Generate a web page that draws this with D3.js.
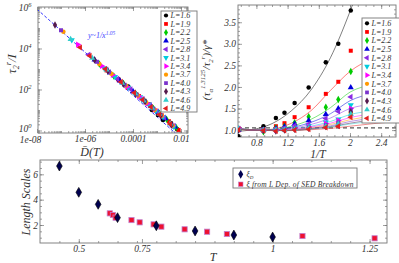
<!DOCTYPE html>
<html>
<head>
<meta charset="utf-8">
<script src="https://cdn.jsdelivr.net/npm/d3@7"></script>
<style>
  body { margin: 0; background: #fff; }
  svg text { font-family: "Liberation Serif", "DejaVu Serif", serif; font-style: italic; fill: #333; }
</style>
</head>
<body>
<svg id="fig" width="399" height="263"></svg>
<script>
var lengths = [1.6, 1.9, 2.2, 2.5, 2.8, 3.1, 3.4, 3.7, 4.0, 4.3, 4.6, 4.9];
var colors = ["#000000", "#ff0000", "#00cc00", "#0000dd", "#8a2be2", "#00ccdd",
              "#ff00ff", "#ff9900", "#7a33cc", "#551a4d", "#33cccc", "#e02020"];
var shapes = ["circle", "square", "diamond", "up", "left", "down",
              "right", "circle", "square", "diamond", "up", "left"];

// top left: log10 of D(T) and of tau_2^r / I, one row per L
var logD = [
  [-2.17, -2.42, -2.75, -2.96, -3.21, -3.5, -3.85, -4.2, -4.6],
  [-2.1, -2.5, -2.8, -3.05, -3.35, -3.75, -4.2, -4.6, -5.1],
  [-2.2, -2.6, -2.9, -3.15, -3.45, -3.9, -4.4, -4.8, -5.4],
  [-2.25, -2.65, -2.95, -3.25, -3.55, -4.0, -4.55, -4.95, -5.6],
  [-2.3, -2.7, -3.0, -3.3, -3.6, -4.1, -4.65, -5.1, -5.85],
  [-2.3, -2.75, -3.05, -3.35, -3.7, -4.2, -4.75, -5.2, -6.55],
  [-2.35, -2.8, -3.1, -3.4, -3.75, -4.25, -4.85, -5.3, -6.3],
  [-2.35, -2.8, -3.1, -3.45, -3.8, -4.3, -4.9, -5.4, -6.9],
  [-2.4, -2.85, -3.15, -3.5, -3.85, -4.35, -5.0, -5.5, -7.0],
  [-2.4, -2.85, -3.2, -3.5, -3.9, -4.4, -5.05, -5.6, -7.25],
  [-2.45, -2.9, -3.2, -3.55, -3.9, -4.45, -5.1, -5.7, -6.6],
  [-2.45, -2.9, -3.25, -3.6, -3.95, -4.5, -5.15, -5.8, -6.2]
];
var logTau = [
  [0.07, 0.37, 0.51, 0.76, 1.0, 1.41, 1.75, 2.15, 2.5],
  [0.03, 0.45, 0.74, 0.97, 1.29, 1.68, 2.08, 2.47, 2.93],
  [0.15, 0.55, 0.84, 1.08, 1.38, 1.82, 2.29, 2.66, 3.24],
  [0.18, 0.58, 0.89, 1.19, 1.49, 1.92, 2.43, 2.82, 3.45],
  [0.22, 0.63, 0.93, 1.24, 1.53, 2.01, 2.52, 2.96, 3.69],
  [0.19, 0.67, 0.96, 1.28, 1.63, 2.10, 2.62, 3.05, 4.42],
  [0.25, 0.71, 1.02, 1.32, 1.66, 2.13, 2.71, 3.15, 4.19],
  [0.24, 0.72, 1.01, 1.36, 1.71, 2.19, 2.77, 3.24, 4.82],
  [0.29, 0.75, 1.06, 1.42, 1.75, 2.23, 2.86, 3.35, 4.89],
  [0.27, 0.73, 1.10, 1.41, 1.80, 2.27, 2.90, 3.44, 5.15],
  [0.33, 0.80, 1.10, 1.45, 1.80, 2.32, 2.96, 3.54, 4.45],
  [0.32, 0.78, 1.15, 1.50, 1.84, 2.37, 3.00, 3.64, 4.05]
];
// dashed power law y ~ 1/x^1.05, end points
var powerLogD = [-8, -2];
var powerLogTau = [5.92, -0.38];

// top right: 1/T and the ratio (tau_alpha^1.3125 / tau_2^r) / gamma*
var invT = [0.57, 0.89, 1.05, 1.16, 1.29, 1.47, 1.69, 1.85, 2.01];
var ratio = [
  [0.86, 1.09, 1.28, 1.40, 1.63, 1.99, 2.57, 3.00, 3.77],
  [1.04, 0.98, 1.09, 1.16, 1.30, 1.53, 1.84, 2.12, 2.84],
  [1.02, 0.96, 1.05, 1.09, 1.17, 1.31, 1.53, 1.71, 2.36],
  [1.00, 1.00, 1.03, 1.08, 1.14, 1.22, 1.37, 1.50, 1.99],
  [1.03, 1.00, 1.02, 1.05, 1.10, 1.14, 1.27, 1.43, 1.77],
  [1.00, 0.99, 1.00, 1.03, 1.06, 1.10, 1.18, 1.25, 1.58],
  [1.05, 1.00, 1.00, 1.02, 1.05, 1.08, 1.15, 1.22, 1.50],
  [1.02, 1.00, 0.99, 1.00, 1.02, 1.05, 1.10, 1.16, 1.40],
  [1.04, 1.01, 1.00, 1.01, 1.03, 1.06, 1.12, 1.18, 1.47],
  [1.00, 0.99, 0.98, 1.00, 1.02, 1.04, 1.08, 1.12, 1.42],
  [1.03, 1.00, 1.00, 1.01, 1.02, 1.05, 1.09, 1.14, 1.37],
  [1.01, 0.99, 0.98, 0.99, 1.00, 1.02, 1.06, 1.09, 1.30]
];
var fitInvT = [0.56, 0.8, 1.0, 1.25, 1.5, 1.75, 2.0, 2.3, 2.59];
var fitRatio = [
  [0.97, 1.03, 1.15, 1.45, 1.93, 2.68, 3.75, 5.3, 7.0],
  [1.04, 0.99, 1.02, 1.16, 1.45, 1.92, 2.36, 2.68, 2.95],
  [1.05, 1.00, 1.01, 1.09, 1.25, 1.52, 1.88, 2.07, 2.21],
  [1.04, 1.00, 1.00, 1.06, 1.18, 1.38, 1.68, 1.86, 2.00],
  [1.04, 1.00, 1.00, 1.04, 1.13, 1.28, 1.50, 1.61, 1.70],
  [1.03, 1.00, 0.99, 1.02, 1.09, 1.20, 1.36, 1.45, 1.52],
  [1.03, 1.00, 0.99, 1.01, 1.07, 1.16, 1.29, 1.38, 1.45],
  [1.03, 1.00, 0.99, 1.00, 1.05, 1.13, 1.24, 1.33, 1.40],
  [1.02, 1.00, 0.99, 1.00, 1.04, 1.10, 1.20, 1.28, 1.35],
  [1.02, 1.00, 0.99, 0.99, 1.03, 1.08, 1.16, 1.24, 1.30],
  [1.02, 1.00, 0.99, 0.99, 1.02, 1.07, 1.14, 1.21, 1.27],
  [1.01, 1.00, 0.99, 0.99, 1.01, 1.04, 1.09, 1.15, 1.20]
];
var ratioRef = 1.05;

// bottom: length scales against T
var tD = [0.45, 0.5, 0.55, 0.6, 0.7, 0.8, 0.9, 1.0];
var xiD = [6.65, 4.58, 3.63, 2.58, 1.94, 1.53, 1.21, 1.05];
var tSED = [0.58, 0.588, 0.595, 0.636, 0.657, 0.693, 0.713, 0.773, 0.831, 0.882, 1.077, 1.263];
var xiSED = [2.92, 2.79, 2.58, 2.39, 2.21, 2.05, 1.87, 1.66, 1.47, 1.29, 1.13, 0.95];
// the original frame puts its "0.75" label well left of T = 0.75
var tTicks = [0.5, 0.663, 1, 1.25];
var tTickLabels = ["0.5", "0.75", "1", "1.25"];

var svg = d3.select("#fig");
var frameColor = "#777";

function symbolPath(shape, size) {
  var type = { circle: d3.symbolCircle, square: d3.symbolSquare, diamond: d3.symbolDiamond,
               up: d3.symbolTriangle, down: d3.symbolTriangle, left: d3.symbolTriangle,
               right: d3.symbolTriangle }[shape];
  return d3.symbol().type(type).size(size)();
}
function symbolRotate(shape) {
  return { down: 180, left: -90, right: 90 }[shape] || 0;
}
function drawMarker(g, shape, color, x, y, size) {
  g.append("path")
    .attr("d", symbolPath(shape, size))
    .attr("transform", "translate(" + x + "," + y + ") rotate(" + symbolRotate(shape) + ")")
    .attr("fill", color);
}

// draws ticks on all four sides, pointing inward
function frameAxes(g, x, y, major, minor, fmtX, fmtY) {
  var r = x.range(), d = y.range();
  var x0 = r[0], x1 = r[1], y0 = d[1], y1 = d[0];
  g.append("rect").attr("x", x0).attr("y", y0).attr("width", x1 - x0).attr("height", y1 - y0)
    .attr("fill", "none").attr("stroke", frameColor).attr("stroke-width", 0.9);

  function ticks(axisFn, scale, vals, len, fmt, tx) {
    var a = axisFn(scale).tickValues(vals).tickSize(-len).tickPadding(2)
      .tickFormat(fmt || "");
    var s = g.append("g").attr("transform", tx).call(a);
    s.select(".domain").remove();
    s.selectAll("line").attr("stroke", frameColor).attr("stroke-width", 0.7);
    s.selectAll("text").attr("font-size", 9.5).attr("fill", "#333").attr("font-family", null);
    return s;
  }
  ticks(d3.axisBottom, x, minor.x, 2, null, "translate(0," + y1 + ")");
  ticks(d3.axisTop, x, minor.x, 2, null, "translate(0," + y0 + ")");
  ticks(d3.axisLeft, y, minor.y, 2, null, "translate(" + x0 + ",0)");
  ticks(d3.axisRight, y, minor.y, 2, null, "translate(" + x1 + ",0)");
  var bx = ticks(d3.axisBottom, x, major.x, 4, fmtX, "translate(0," + y1 + ")");
  ticks(d3.axisTop, x, major.x, 4, null, "translate(0," + y0 + ")");
  ticks(d3.axisLeft, y, major.y, 4, fmtY, "translate(" + x0 + ",0)");
  ticks(d3.axisRight, y, major.y, 4, null, "translate(" + x1 + ",0)");
  return bx;
}

function legendBox(g, x0, y0, x1, y1) {
  g.append("rect").attr("x", x0).attr("y", y0).attr("width", x1 - x0).attr("height", y1 - y0)
    .attr("fill", "#fff").attr("stroke", frameColor).attr("stroke-width", 0.9);
}
function lLegend(g, x0, y0, x1, y1, firstY, step) {
  legendBox(g, x0, y0, x1, y1);
  lengths.forEach(function(L, i) {
    var yy = firstY + i * step;
    drawMarker(g, shapes[i], colors[i], x0 + 5, yy, 14);
    g.append("text").attr("x", x0 + 9.5).attr("y", yy + 2.8).attr("font-size", 8)
      .text("L=" + L.toFixed(1));
  });
}

/* ---------- top left ---------- */
var tl = svg.append("g");
var xTL = d3.scaleLog().domain([Math.pow(10, -7.958), Math.pow(10, -1.708)]).range([38, 188]);
var yTL = d3.scaleLog().domain([Math.pow(10, -0.122), Math.pow(10, 6.024)]).range([133, 7]);

var minorTLx = [], minorTLy = [];
d3.range(-8, -1).forEach(function(k) {
  d3.range(1, 10).forEach(function(m) {
    var v = m * Math.pow(10, k);
    if (v > xTL.domain()[0] && v < xTL.domain()[1]) minorTLx.push(v);
  });
});
d3.range(-1, 7).forEach(function(k) {
  d3.range(1, 10).forEach(function(m) {
    var v = m * Math.pow(10, k);
    if (v > yTL.domain()[0] && v < yTL.domain()[1]) minorTLy.push(v);
  });
});
var tlXLabels = { "1e-8": "1e-08", "0.000001": "1e-06", "0.0001": "0.0001", "0.01": "0.01" };
var tlBottom = frameAxes(tl, xTL, yTL,
  { x: [1e-8, 1e-6, 1e-4, 1e-2], y: [1, 1e2, 1e4, 1e6] },
  { x: minorTLx, y: minorTLy },
  function(d) { return tlXLabels[String(d)]; },
  function() { return ""; });
// the 1e-08 label sits left of the frame corner in the original
tlBottom.selectAll("text").filter(function(d) { return d === 1e-8; }).attr("dx", -7).attr("dy", "0.85em");
// 10^n labels
[0, 2, 4, 6].forEach(function(n) {
  var t = tl.append("text").attr("x", 25).attr("y", yTL(Math.pow(10, n)) + (n === 0 ? 2 : 3.5))
    .attr("font-size", 9.5).attr("text-anchor", "middle");
  t.append("tspan").text("10");
  t.append("tspan").attr("dy", -4).attr("font-size", 6.5).text(n);
});

tl.append("clipPath").attr("id", "clipTL").append("rect")
  .attr("x", 38).attr("y", 7).attr("width", 150).attr("height", 126);
var plotTL = tl.append("g").attr("clip-path", "url(#clipTL)");
plotTL.append("line")
  .attr("x1", xTL(Math.pow(10, powerLogD[0]))).attr("y1", yTL(Math.pow(10, powerLogTau[0])))
  .attr("x2", xTL(Math.pow(10, powerLogD[1]))).attr("y2", yTL(Math.pow(10, powerLogTau[1])))
  .attr("stroke", "#3333ff").attr("stroke-width", 1).attr("stroke-dasharray", "3,2");
lengths.forEach(function(L, i) {
  logD[i].forEach(function(ld, j) {
    drawMarker(plotTL, shapes[i], colors[i], xTL(Math.pow(10, ld)), yTL(Math.pow(10, logTau[i][j])), 16);
  });
});
var pl = tl.append("text").attr("x", 88).attr("y", 38).attr("font-size", 8).style("fill", "#4444ff");
pl.append("tspan").text("y~1/x");
pl.append("tspan").attr("dy", -3.5).attr("font-size", 5.5).text("1.05");

var ylab = tl.append("text").attr("transform", "translate(16,64) rotate(-90)")
  .attr("text-anchor", "middle").attr("font-size", 13);
ylab.append("tspan").text("τ");
ylab.append("tspan").attr("dy", 3).attr("font-size", 8).text("2");
ylab.append("tspan").attr("dy", -8).attr("font-size", 8).text("r");
ylab.append("tspan").attr("dy", 5).text("/I");
tl.append("text").attr("x", 92).attr("y", 156).attr("font-size", 12)
  .attr("text-anchor", "middle").text("D\u0304(T)");

lLegend(tl, 161, 11, 197, 112, 15.5, 8.45);

/* ---------- top right ---------- */
var tr = svg.append("g");
var xTR = d3.scaleLinear().domain([0.564, 2.59]).range([238, 396]);
var yTR = d3.scaleLinear().domain([0.84, 3.9]).range([137, 5]);
frameAxes(tr, xTR, yTR,
  { x: [0.8, 1.2, 1.6, 2.0, 2.4], y: [1, 1.5, 2, 2.5, 3, 3.5] },
  { x: d3.range(0.6, 2.6, 0.1), y: d3.range(0.9, 3.9, 0.1) },
  function(d) { return d === 2 ? "2" : d3.format(".1f")(d); },
  d3.format(".1f"));

tr.append("clipPath").attr("id", "clipTR").append("rect")
  .attr("x", 238).attr("y", 5).attr("width", 158).attr("height", 132);
var plotTR = tr.append("g").attr("clip-path", "url(#clipTR)");
plotTR.append("line").attr("x1", 238).attr("x2", 396)
  .attr("y1", yTR(ratioRef)).attr("y2", yTR(ratioRef))
  .attr("stroke", "#555").attr("stroke-width", 1.2).attr("stroke-dasharray", "4,3");
var fitLine = d3.line().x(function(d) { return xTR(d[0]); }).y(function(d) { return yTR(d[1]); })
  .curve(d3.curveMonotoneX);
lengths.forEach(function(L, i) {
  plotTR.append("path").attr("d", fitLine(fitInvT.map(function(u, j) { return [u, fitRatio[i][j]]; })))
    .attr("fill", "none").attr("stroke", colors[i]).attr("stroke-opacity", 0.5).attr("stroke-width", 1);
});
lengths.forEach(function(L, i) {
  invT.forEach(function(u, j) {
    drawMarker(plotTR, shapes[i], colors[i], xTR(u), yTR(ratio[i][j]), 16);
  });
});
var ylabTR = tr.append("text").attr("transform", "translate(210,70) rotate(-90)")
  .attr("text-anchor", "middle").attr("font-size", 11);
ylabTR.append("tspan").text("(τ");
ylabTR.append("tspan").attr("dy", 3).attr("font-size", 7).text("α");
ylabTR.append("tspan").attr("dy", -8).attr("font-size", 7).text("1.3125");
ylabTR.append("tspan").attr("dy", 5).text("/τ");
ylabTR.append("tspan").attr("dy", 3).attr("font-size", 7).text("2");
ylabTR.append("tspan").attr("dy", -8).attr("font-size", 7).text("r");
ylabTR.append("tspan").attr("dy", 5).text(")/γ*");
tr.append("text").attr("x", 318).attr("y", 157.5).attr("font-size", 11.5)
  .attr("text-anchor", "middle").text("1/T");

lLegend(tr, 362, 18, 402, 123, 23.3, 8.64);

/* ---------- bottom ---------- */
var bt = svg.append("g");
var xB = d3.scaleLinear().domain([0.4, 1.295]).range([40, 387]);
var yB = d3.scaleLinear().domain([0.58, 7.13]).range([243, 160]);
frameAxes(bt, xB, yB,
  { x: tTicks, y: [2, 4, 6] },
  { x: d3.range(0.45, 1.3, 0.05), y: d3.range(1, 7.5, 0.5) },
  function(d) { return tTickLabels[tTicks.indexOf(d)]; },
  function(d) { return String(d); });

xiSED.forEach(function(v, i) {
  bt.append("rect").attr("x", xB(tSED[i]) - 2.6).attr("y", yB(v) - 2.6)
    .attr("width", 5.2).attr("height", 5.2)
    .attr("fill", "#ee1030").attr("stroke", "#c080d0").attr("stroke-width", 0.8);
});
xiD.forEach(function(v, i) {
  bt.append("path").attr("d", symbolPath("diamond", 28))
    .attr("transform", "translate(" + xB(tD[i]) + "," + yB(v) + ")")
    .attr("fill", "#000050").attr("stroke", "#000").attr("stroke-width", 0.6);
});

legendBox(bt, 233, 168, 357, 188);
bt.append("path").attr("d", symbolPath("diamond", 22))
  .attr("transform", "translate(240.7,174.3)").attr("fill", "#000050");
bt.append("rect").attr("x", 238.5).attr("y", 182).attr("width", 4.5).attr("height", 4.5)
  .attr("fill", "#ee1030").attr("stroke", "#c080d0").attr("stroke-width", 0.6);
var lg1 = bt.append("text").attr("x", 246.5).attr("y", 176.5).attr("font-size", 7.5);
lg1.append("tspan").text("ξ");
lg1.append("tspan").attr("dy", 2).attr("font-size", 5).text("D");
bt.append("text").attr("x", 246.5).attr("y", 186.5).attr("font-size", 7.5)
  .attr("textLength", 107).text("ξ from L Dep. of SED Breakdown");

bt.append("text").attr("transform", "translate(30,202) rotate(-90)")
  .attr("text-anchor", "middle").attr("font-size", 12).text("Length Scales");
bt.append("text").attr("x", 213).attr("y", 261).attr("font-size", 12)
  .attr("text-anchor", "middle").text("T");
</script>
</body>
</html>
